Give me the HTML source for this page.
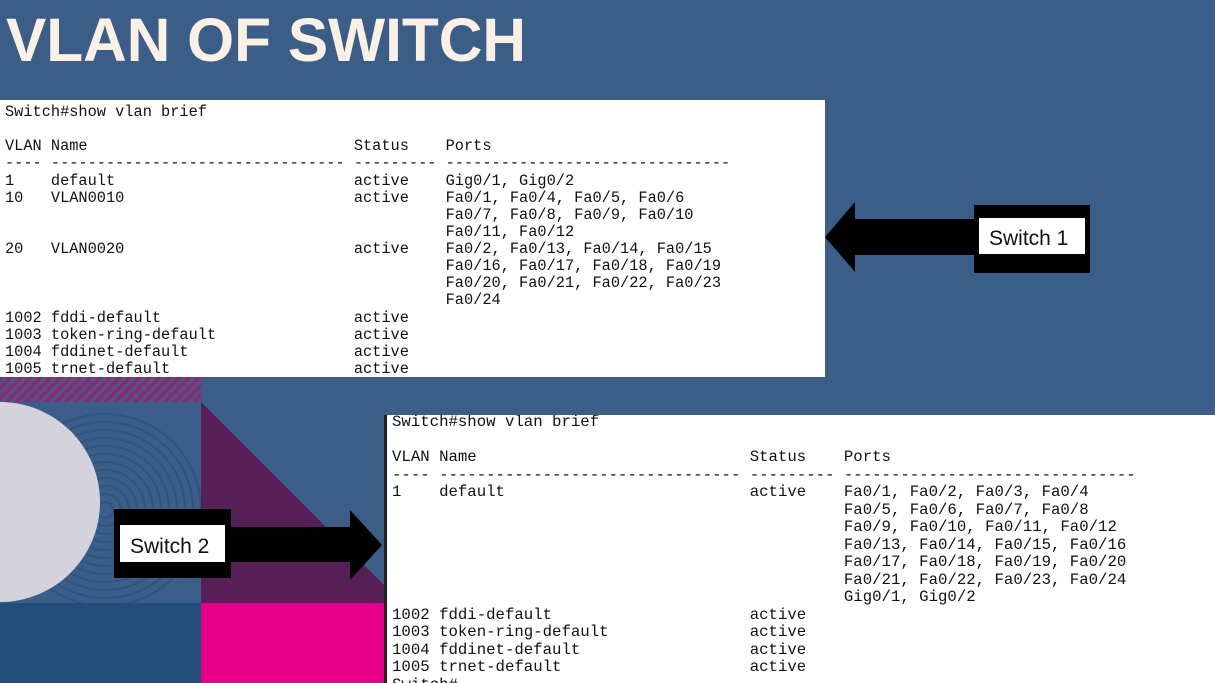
<!DOCTYPE html>
<html><head><meta charset="utf-8"><style>
body{margin:0;width:1215px;height:683px;overflow:hidden;background:#3a5e87;position:relative;font-family:"Liberation Sans",sans-serif}
pre{margin:0;font-family:"Liberation Mono",monospace;color:#111;font-weight:normal;position:absolute;white-space:pre}
.p1{left:0;top:100px;width:825px;height:277px;background:#fff;position:absolute;overflow:hidden}
.p2{left:384px;top:415px;width:831px;height:268px;background:#fff;position:absolute;overflow:hidden;border-left:3px solid #222;box-sizing:border-box}
</style></head><body>
<svg width="1215" height="683" style="position:absolute;left:0;top:0">
<defs>
<pattern id="st" width="7" height="7" patternUnits="userSpaceOnUse" patternTransform="rotate(45)">
<rect width="7" height="7" fill="#3a5e87"/><rect width="3.5" height="7" fill="#a01e6e"/></pattern>
<clipPath id="cb"><rect x="0" y="402" width="201" height="201"/></clipPath>
</defs>
<text x="6" y="61" font-family="Liberation Sans" font-weight="bold" font-size="61" fill="#faf0e4" textLength="520" lengthAdjust="spacingAndGlyphs">VLAN OF SWITCH</text>
<rect x="0" y="377" width="201" height="25" fill="url(#st)"/>
<rect x="0" y="402" width="201" height="201" fill="#3a5e87"/>
<g clip-path="url(#cb)" fill="none" stroke="#2e5482" stroke-width="2">
<circle cx="105" cy="510" r="8"/><circle cx="105" cy="510" r="16"/><circle cx="105" cy="510" r="24"/><circle cx="105" cy="510" r="32"/><circle cx="105" cy="510" r="40"/><circle cx="105" cy="510" r="48"/><circle cx="105" cy="510" r="56"/><circle cx="105" cy="510" r="64"/><circle cx="105" cy="510" r="72"/><circle cx="105" cy="510" r="80"/><circle cx="105" cy="510" r="88"/><circle cx="105" cy="510" r="96"/>
<circle cx="0" cy="502" r="100" fill="#d4d3dc" stroke="none"/>
</g>
<polygon points="201,402 201,603 384,603 384,585" fill="#561f55"/>
<rect x="0" y="603" width="201" height="80" fill="#234e7c"/>
<rect x="201" y="603" width="183" height="80" fill="#e8008a"/>
<rect x="114" y="509" width="117" height="69" fill="#000"/>
<rect x="120" y="525" width="105" height="37" fill="#fff"/>
<text x="130" y="553" font-size="21" fill="#111">Switch 2</text>
<polygon points="231,527 350,527 350,510 382,545 350,580 350,562 231,562" fill="#000"/>
<rect x="974" y="205" width="116" height="68" fill="#000"/>
<rect x="979" y="218" width="106" height="36" fill="#fff"/>
<text x="989" y="245" font-size="21" fill="#111">Switch 1</text>
<polygon points="975,219 855,219 855,202 825,237 855,272 855,255 975,255" fill="#000"/>
</svg>
<div class="p1"><pre style="left:5px;top:4px;font-size:15.3px;line-height:17.13px">Switch#show vlan brief

VLAN Name                             Status    Ports
---- -------------------------------- --------- -------------------------------
1    default                          active    Gig0/1, Gig0/2
10   VLAN0010                         active    Fa0/1, Fa0/4, Fa0/5, Fa0/6
                                                Fa0/7, Fa0/8, Fa0/9, Fa0/10
                                                Fa0/11, Fa0/12
20   VLAN0020                         active    Fa0/2, Fa0/13, Fa0/14, Fa0/15
                                                Fa0/16, Fa0/17, Fa0/18, Fa0/19
                                                Fa0/20, Fa0/21, Fa0/22, Fa0/23
                                                Fa0/24
1002 fddi-default                     active
1003 token-ring-default               active
1004 fddinet-default                  active
1005 trnet-default                    active</pre></div>
<div class="p2"><pre style="left:5px;top:-1px;font-size:15.7px;line-height:17.5px">Switch#show vlan brief

VLAN Name                             Status    Ports
---- -------------------------------- --------- -------------------------------
1    default                          active    Fa0/1, Fa0/2, Fa0/3, Fa0/4
                                                Fa0/5, Fa0/6, Fa0/7, Fa0/8
                                                Fa0/9, Fa0/10, Fa0/11, Fa0/12
                                                Fa0/13, Fa0/14, Fa0/15, Fa0/16
                                                Fa0/17, Fa0/18, Fa0/19, Fa0/20
                                                Fa0/21, Fa0/22, Fa0/23, Fa0/24
                                                Gig0/1, Gig0/2
1002 fddi-default                     active
1003 token-ring-default               active
1004 fddinet-default                  active
1005 trnet-default                    active
Switch#</pre></div>
</body></html>
